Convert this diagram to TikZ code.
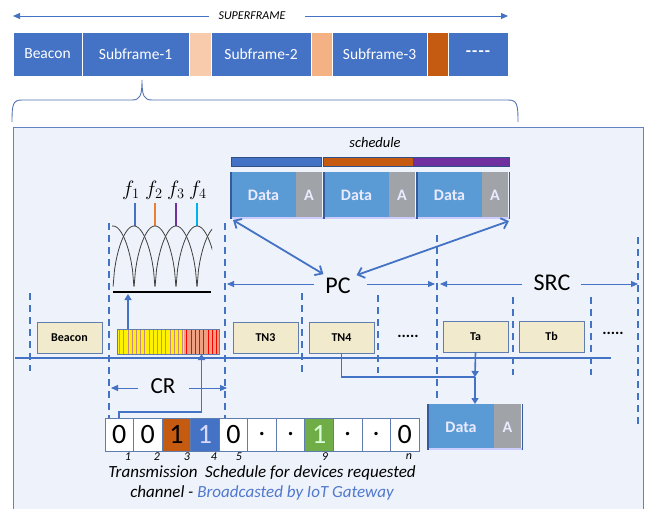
\documentclass[tikz,border=0pt]{standalone}
\usepackage{fontspec}
\setmainfont{Carlito}
\usetikzlibrary{arrows.meta,calc}
\definecolor{myblue}{RGB}{68,114,196}
\definecolor{datablue}{RGB}{91,155,213}
\definecolor{agray}{RGB}{160,163,168}
\definecolor{rust}{RGB}{197,90,17}
\definecolor{palepeach}{RGB}{248,203,173}
\definecolor{peach}{RGB}{244,177,131}
\definecolor{mypurple}{RGB}{112,48,160}
\definecolor{forange}{RGB}{237,125,49}
\definecolor{fcyan}{RGB}{0,176,240}
\definecolor{mygreen}{RGB}{112,173,71}
\definecolor{panelfill}{RGB}{238,242,250}
\definecolor{panelborder}{RGB}{100,130,190}
\definecolor{tan}{RGB}{242,234,204}
\definecolor{tanborder}{RGB}{95,125,175}
\definecolor{linkblue}{RGB}{80,120,205}
\definecolor{salmon}{RGB}{240,160,130}
\begin{document}
\begin{tikzpicture}[x=1pt,y=-1pt,
  every node/.style={inner sep=0pt,outer sep=0pt},
  seg/.style={fill=myblue,draw=white,line width=0.8pt,anchor=north west,minimum height=44pt,text=white,font=\fontsize{15.5}{17}\selectfont},
  schedbar/.style={draw=myblue!70!black,line width=0.4pt},
  databox/.style={fill=datablue,anchor=north west,minimum width=65pt,minimum height=47pt,text=white!92!blue,font=\bfseries\fontsize{16}{18}\selectfont},
  abox/.style={fill=agray,anchor=north west,minimum width=26pt,minimum height=47pt,text=white!92!blue,font=\bfseries\fontsize{16}{18}\selectfont},
  frameline/.style={draw=myblue!80!black,line width=1.2pt},
  stem/.style={line width=2.5pt},
  arch/.style={draw=black!75,line width=0.8pt},
  vdash/.style={draw=myblue,line width=1.6pt,dash pattern=on 7pt off 5pt},
  tbox/.style={fill=tan,draw=tanborder,line width=0.8pt,anchor=north west,minimum width=65pt,minimum height=31pt,font=\bfseries\fontsize{12}{14}\selectfont},
  bit/.style={draw=tanborder,fill=white,line width=0.8pt,anchor=north west,minimum width=28.55pt,minimum height=33pt,font=\fontsize{28}{30}\selectfont},
  idx/.style={font=\itshape\fontsize{12}{14}\selectfont},
  flab/.style={font=\fontsize{21}{22}\selectfont},
  arr/.style={draw=myblue,line width=1.6pt,-{Triangle[length=6pt,width=7pt]}},
  thinarr/.style={draw=myblue,line width=0.9pt,-{Triangle[length=7pt,width=6pt]}},
  dbl/.style={draw=myblue,line width=1.8pt,{Straight Barb[length=6pt,width=11pt]}-{Straight Barb[length=6pt,width=11pt]}},
  big/.style={font=\fontsize{24}{26}\selectfont}
]
\useasboundingbox (0,0) rectangle (647,508);
\fill[white] (0,0) rectangle (647,508);

% ---------- superframe ----------
\node[font=\itshape\fontsize{12}{14}\selectfont] (sf) at (252,16) {SUPERFRAME};
\coordinate (sfl) at (13,16);
\coordinate (sfr) at (508,16);
\draw[thinarr] ($(sf.west)+(-10,0)$) -- (sfl);
\draw[thinarr] ($(sf.east)+(20,0)$) -- (sfr);

\node[seg,minimum width=69pt] (tb) at (13,32) {Beacon};
\node[seg,minimum width=107pt] (s1) at (82,32) {Subframe-1};
\node[seg,minimum width=22pt,fill=palepeach] (g1) at (189,32) {};
\node[seg,minimum width=100pt] (s2) at (211,32) {Subframe-2};
\node[seg,minimum width=21pt,fill=peach] (g2) at (311,32) {};
\node[seg,minimum width=95pt] (s3) at (332,32) {Subframe-3};
\node[seg,minimum width=21pt,fill=rust] (g3) at (427,32) {};
\node[seg,minimum width=60pt,font=\bfseries\fontsize{17}{17}\selectfont] (s4) at (448,32) {-\kern1.2pt-\kern1.2pt-\kern1.2pt-};

% brace
\draw[draw=myblue!75!gray,line width=0.9pt]
  (12,122) .. controls (12,104) and (13,100) .. (22,100) -- (132,100)
  .. controls (140,100) and (142,96) .. (142,80)
  .. controls (142,96) and (144,100) .. (152,100) -- (508,100)
  .. controls (517,100) and (518,104) .. (518,122);

% ---------- panel ----------
\draw[fill=panelfill,draw=panelborder,line width=1pt] (13,127) rectangle (643,512);

% schedule
\node[font=\itshape\fontsize{14.5}{16}\selectfont] (sch) at (375,143) {schedule};
\filldraw[fill=myblue,schedbar] (231,157) rectangle (321,166);
\filldraw[fill=rust,schedbar] (323,157) rectangle (413,166);
\filldraw[fill=mypurple,schedbar] (413,157) rectangle (509,166);

\node[databox] (d1) at (231,172) {Data};
\node[abox] (a1) at (d1.north east) {A};
\node[databox] (d2) at (324,172) {Data};
\node[abox] (a2) at (d2.north east) {A};
\node[databox] (d3) at (417,172) {Data};
\node[abox] (a3) at (d3.north east) {A};
\foreach \n in {1,2,3}{
  \draw[frameline] (d\n.north west) -- (d\n.south west);
  \draw[white!80!blue,line width=1.2pt] ($(d\n.south west)+(1,-1)$) -- ($(a\n.south east)+(1,-1)$);
  \draw[frameline,line width=0.8pt] ($(a\n.north east)+(1,0)$) -- ($(a\n.south east)+(1,0)$);
}

% spectrum
\node[flab] (f1) at (131,190) {$f_1$};
\node[flab] (f2) at (154,190) {$f_2$};
\node[flab] (f3) at (176,190) {$f_3$};
\node[flab] (f4) at (198,190) {$f_4$};
\draw[stem,myblue] (135,203) -- (135,226);
\draw[stem,forange] (155,203) -- (155,226);
\draw[stem,mypurple] (176,203) -- (176,226);
\draw[stem,fcyan] (197,203) -- (197,226);
\begin{scope}
  \clip (112,215) rectangle (212,292.5);
  \foreach \p in {113,134,155,176,197,218}
    \draw[arch] plot[domain=-20.9:20.9,samples=31] ({\p+\x},{292-66*sqrt(abs(cos(90*\x/21)))});
\end{scope}
\draw[black,line width=1.2pt] (113,292) -- (211,292);
\draw[black,line width=2.2pt] (205,292) -- (211,292);

% dashed verticals
\foreach \x/\a/\b in {30/293/371, 109/223/420, 225/223/418, 302/293/372, 378/295/373, 437/235/400, 513/297/375, 591/297/375, 638/237/428}
  \draw[vdash] (\x,\a) -- (\x,\b);

% PC / SRC
\node[big] (pc) at (338,286) {PC};
\node[big] (src) at (552,283) {SRC};
\coordinate (pcl) at (227,284);
\coordinate (pcr) at (435,284);
\coordinate (srcl) at (440,284);
\coordinate (srcr) at (638,284);
\draw[thinarr] ($(pc.west)+(-11,-2)$) -- (pcl);
\draw[thinarr] ($(pc.east)+(16,-2)$) -- (pcr);
\draw[thinarr] ($(src.west)+(-12,1)$) -- (srcl);
\draw[thinarr] ($(src.east)+(11,1)$) -- (srcr);
\draw[dbl] ($(d1.south west)+(2,1)$) -- ($(pc.north west)+(-2,-4)$);
\draw[dbl] ($(a3.south east)+(1,2)$) -- ($(pc.north east)+(6,-3)$);

% timeline
\draw[myblue,line width=2pt] (15,358) -- (611,358);
\node[tbox] (bc) at (37,322) {Beacon};
\fill[yellow] (117,329) rectangle (184,354);
\fill[salmon] (184,329) rectangle (219,354);
\foreach \i in {0,...,15} \draw[red!35!gray!70,line width=0.6pt] ({119.5+\i*4.2},329) -- ++(0,25);
\foreach \i in {0,...,7} \draw[red,line width=0.6pt] ({186.5+\i*4.3},329) -- ++(0,25);
\node[anchor=north west,minimum width=102pt,minimum height=25pt,draw=tanborder,line width=0.8pt] (crbar) at (117,329) {};
\node[anchor=north west,minimum width=35pt,minimum height=25pt] (red) at (184,329) {};
\node[tbox] (tn3) at (233,322) {TN3};
\node[tbox] (tn4) at (309,322) {TN4};
\node[font=\bfseries\fontsize{16}{18}\selectfont] (dots1) at (408,336) {.....};
\node[tbox] (ta) at (443,321) {Ta};
\node[tbox] (tb2) at (519,321) {Tb};
\node[font=\bfseries\fontsize{16}{18}\selectfont] (dots2) at (613,333) {.....};

% up arrow to spectrum
\coordinate (spec) at (128,294);
\draw[arr] ($(crbar.north west)+(11,0)$) -- (spec);

% CR
\node[font=\fontsize{23}{25}\selectfont] (crl) at (163,386) {CR};
\coordinate (crL) at (111,388);
\coordinate (crR) at (227,388);
\draw[thinarr] ($(crl.west)+(-13,2)$) -- (crL);
\draw[thinarr] ($(crl.east)+(14,2)$) -- (crR);

% bits
\foreach \i/\t in {1/0,2/0,5/0,6/.,7/.,9/.,10/.,11/0}
  \node[bit] (b\i) at ({105+(\i-1)*28.55},418) {\t};
\node[bit,fill=rust] (b3) at ({105+2*28.55},418) {1};
\node[bit,fill=myblue,text=white!85!blue] (b4) at ({105+3*28.55},418) {1};
\node[bit,fill=mygreen,text=white!85!green] (b8) at ({105+7*28.55},418) {1};
\draw[arr] (b1.north) -- ++(0,-6) -| (red.south);

\foreach \x/\t in {128/1,157/2,187/3,214/4,239/5,325/9,409/n}
  \node[idx] at (\x,457) {\t};

\node[font=\itshape\fontsize{17}{20}\selectfont,align=center] (cap) at (262,483)
  {Transmission\ \ Schedule for devices requested\\channel - {\color{linkblue}Broadcasted by IoT Gateway}};

% bottom data frame
\node[databox,minimum width=66pt,minimum height=46pt] (d4) at (428,404) {Data};
\node[abox,minimum width=27pt,minimum height=46pt] (a4) at (d4.north east) {A};
\draw[frameline] (d4.north west) -- (d4.south west);
\draw[frameline,line width=0.8pt] ($(a4.north east)+(1,0)$) -- ($(a4.south east)+(1,0)$);
\draw[white!80!blue,line width=1.2pt] ($(d4.south west)+(1,-1)$) -- ($(a4.south east)+(1,-1)$);

% TN4 / Ta arrows
\coordinate (j) at (475,377);
\draw[myblue,line width=1.6pt] (tn4.south) |- (j);
\draw[arr] (ta.south) -- (j);
\draw[arr] (j) -- (j |- d4.north);
\end{tikzpicture}
\end{document}
